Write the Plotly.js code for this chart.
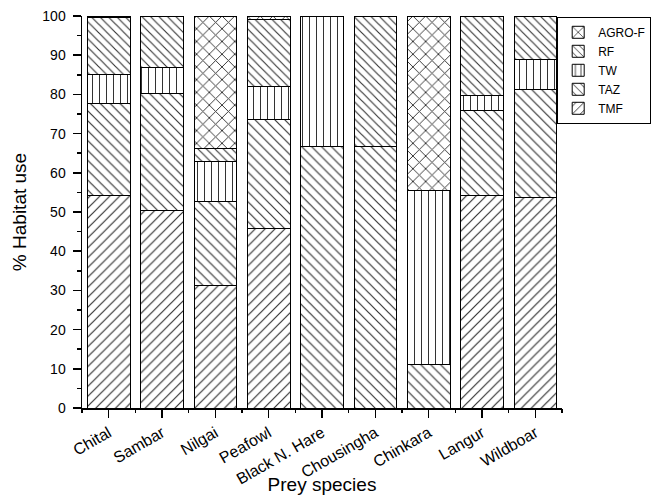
<!DOCTYPE html>
<html>
<head>
<meta charset="utf-8">
<script src="https://cdn.plot.ly/plotly-3.0.1.min.js"></script>
<style>html,body{margin:0;padding:0;background:#fff;}#chart{width:654px;height:495px;}</style>
</head>
<body>
<div id="chart"></div>
<script>
const species = ['Chital','Sambar','Nilgai','Peafowl','Black N. Hare','Chousingha','Chinkara','Langur','Wildboar'];
const TMF    = [54.3, 50.5, 31.2, 45.8, null, null, null, 54.3, 53.8];
const TAZ    = [23.4, 29.7, 21.6, 27.8, 66.7, 66.7, 11.1, 21.7, 27.5];
const TW     = [7.3,  6.6,  10.2, 8.4,  33.3, null, 44.5, 3.7,  7.6];
const RF     = [14.7, 13.2, 3.2,  17.2, null, 33.3, null, 20.3, 11.1];
const AGROF  = [0.3,  null, 33.8, 0.8,  null, null, 44.4, null, null];
const boundaries = [-0.5,0.5,1.5,2.5,3.5,4.5,5.5,6.5,7.5,8.5];

const FONT = 'Liberation Sans, Arial, sans-serif';
function tr(name, vals, shape, size, sol){
  return {
    type:'bar', name:name, x:species, y:vals, xaxis:'x', yaxis:'y',
    marker:{color:'#ffffff', line:{color:'#000', width:1},
      pattern:{shape:shape, size:size, solidity:sol, fgcolor:'#333', bgcolor:'#ffffff', fillmode:'replace'}}
  };
}
const data = [
  tr('TMF', TMF, '/', 7, 0.17),
  tr('TAZ', TAZ, '\\', 7, 0.17),
  tr('TW', TW, '|', 7, 0.15),
  tr('RF', RF, '\\', 6, 0.19),
  tr('AGRO-F', AGROF, 'x', 9, 0.2),
  {type:'scatter', x:boundaries, y:boundaries.map(()=>0), xaxis:'x2', yaxis:'y', mode:'markers',
   marker:{opacity:0}, showlegend:false, hoverinfo:'skip'}
];
const layout = {
  width:654, height:495,
  margin:{l:82, r:92, t:16, b:87, autoexpand:false},
  paper_bgcolor:'#fff', plot_bgcolor:'#fff',
  barmode:'stack', bargap:0.2,
  font:{family:FONT, size:14, color:'#000'},
  showlegend:true,
  legend:{x:0.99, y:0.998, xanchor:'left', yanchor:'top', traceorder:'reversed',
    bordercolor:'#000', borderwidth:1, bgcolor:'#fff', font:{family:FONT, size:12},
    tracegroupgap:0, itemwidth:30},
  xaxis:{type:'category', showline:true, linecolor:'#000', linewidth:1.5,
    ticks:'outside', ticklen:8, tickwidth:1.5, tickcolor:'#000', tickangle:-30,
    tickfont:{family:FONT, size:16}, showgrid:false, zeroline:false,
    range:[-0.5,8.5], automargin:false,
    title:{text:'Prey species', font:{family:FONT, size:19}, standoff:0}},
  xaxis2:{overlaying:'x', anchor:'y', side:'bottom', range:[-0.5,8.5], tickvals:boundaries,
    showticklabels:false, ticks:'outside', ticklen:4, tickwidth:1.5, tickcolor:'#000',
    showgrid:false, zeroline:false, showline:false},
  yaxis:{range:[0,100], dtick:10, showline:true, linecolor:'#000', linewidth:1.5,
    ticks:'outside', ticklen:8, tickwidth:1.5, tickcolor:'#000', ticklabelstandoff:4,
    minor:{dtick:5, ticks:'outside', ticklen:4, tickwidth:1.5, tickcolor:'#000', showgrid:false},
    tickfont:{family:FONT, size:14}, showgrid:false, zeroline:false, automargin:false,
    title:{text:'% Habitat use', font:{family:FONT, size:19}, standoff:10}}
};
Plotly.newPlot('chart', data, layout, {displayModeBar:false, staticPlot:true});
</script>
</body>
</html>
